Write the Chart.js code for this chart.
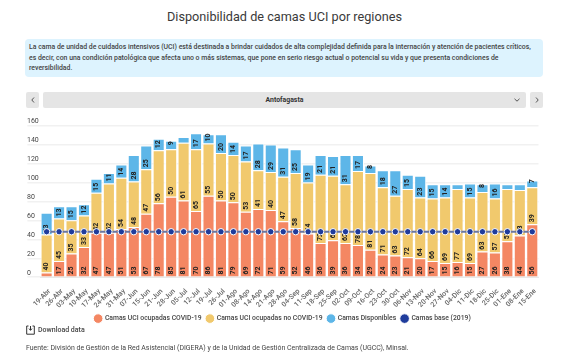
<!DOCTYPE html>
<html lang="es">
<head>
<meta charset="utf-8">
<title>Disponibilidad de camas UCI por regiones</title>
<script src="https://cdn.jsdelivr.net/npm/chart.js@4"></script>
<style>
  html, body { margin: 0; padding: 0; background: #fff; }
  body { width: 567px; height: 357px; position: relative; overflow: hidden; font-family: Roboto, sans-serif; color: #333; }
  h1 { position: absolute; top: 8px; left: 1px; width: 567px; margin: 0; text-align: center; font-size: 12.7px; font-weight: 400; line-height: 18px; color: #3a3a3a; }
  .intro { position: absolute; left: 25px; top: 39px; padding: 3px 4px 0 4px; width: 510px; height: 35px; background: #ddf3fe; border-radius: 4px; font-size: 6.9px; font-weight: 500; line-height: 10.7px; color: #444; }
  .btn, .sel { position: absolute; top: 92px; height: 16px; background: #e5e5e5; border-radius: 2px; }
  .btn { width: 13px; }
  .sel { left: 43px; width: 483px; text-align: center; font-size: 6.9px; font-weight: 700; line-height: 16px; color: #333; }
  svg.chev { position: absolute; top: 5px; }
  #wrap { position: absolute; left: 27px; top: 112px; width: 540px; height: 220px; }
  .download { position: absolute; left: 26px; top: 325px; font-size: 7px; font-weight: 500; line-height: 11px; color: #444; padding-left: 12px; }
  .download svg { position: absolute; left: 0; top: 0; }
  .source { position: absolute; left: 26px; top: 343px; font-size: 6.95px; line-height: 10px; color: #444; }
</style>
</head>
<body>
<h1>Disponibilidad de camas UCI por regiones</h1>
<div class="intro">La cama de unidad de cuidados intensivos (UCI) está destinada a brindar cuidados de alta complejidad definida para la internación y atención de pacientes críticos, es decir, con una condición patológica que afecta uno o más sistemas, que pone en serio riesgo actual o potencial su vida y que presenta condiciones de reversibilidad.</div>
<div class="btn" style="left:26px"><svg class="chev" style="left:5px" width="4" height="6"><path d="M3 0.5L0.8 3L3 5.5" fill="none" stroke="#555" stroke-width="1"/></svg></div>
<div class="sel">Antofagasta<svg class="chev" style="right:6px;top:6px" width="6" height="4"><path d="M0.5 0.8L3 3.2L5.5 0.8" fill="none" stroke="#555" stroke-width="1"/></svg></div>
<div class="btn" style="left:530px"><svg class="chev" style="left:5px" width="4" height="6"><path d="M1 0.5L3.2 3L1 5.5" fill="none" stroke="#555" stroke-width="1"/></svg></div>
<div id="wrap"><canvas id="chart" width="540" height="220"></canvas></div>
<div class="download"><svg width="9" height="10"><path d="M2.5 1H0.7V9.2H8.3V1H6.5" fill="none" stroke="#333" stroke-width="1"/><path d="M4.5 1V5M3 3.6L4.5 5.4L6 3.6" fill="none" stroke="#333" stroke-width="1"/></svg>Download data</div>
<div class="source">Fuente: División de Gestión de la Red Asistencial (DIGERA) y de la Unidad de Gestión Centralizada de Camas (UGCC), Minsal.</div>
<script>
const weeks = ['19-Abr','26-Abr','03-May','10-May','17-May','24-May','31-May','07-Jun','15-Jun','21-Jun',
  '28-Jun','05-Jul','12-Jul','19-Jul','26-Jul','01-Ago','08-Ago','14-Ago','21-Ago','28-Ago',
  '04-Sep','11-Sep','18-Sep','25-Sep','02-Oct','09-Oct','16-Oct','23-Oct','30-Oct','06-Nov',
  '13-Nov','20-Nov','27-Nov','04-Dic','11-Dic','18-Dic','25-Dic','01-Ene','08-Ene','15-Ene'];
const covid = [5,17,25,32,47,47,51,53,67,78,
  85,81,70,86,81,79,69,72,71,59,
  52,46,36,39,36,34,29,24,23,21,
  20,17,15,16,15,27,26,38,44,56];
const noCovid = [40,45,35,33,42,52,54,48,47,56,
  50,61,65,55,50,50,53,41,40,47,
  58,54,72,68,62,78,81,71,63,72,
  64,66,69,77,69,63,57,55,48,39];
const disponibles = [23,13,15,12,15,11,14,28,25,12,
  9,6,17,10,20,14,17,28,29,31,
  25,19,21,21,31,17,8,18,27,15,
  23,15,14,5,15,8,16,5,6,7];
const base2019 = [48,48,48,48,48,48,48,48,48,48,
  48,48,48,48,48,48,48,48,48,48,
  48,48,48,48,48,48,48,48,48,48,
  48,48,48,48,48,48,48,48,48,48];

// rotated value labels, sitting at the base of each segment
const barLabels = {
  id: 'barLabels',
  afterDatasetDraw(chart, args) {
    if (chart.data.datasets[args.index].type === 'line') return;
    const values = chart.data.datasets[args.index].data;
    const { ctx } = chart;
    ctx.save();
    ctx.font = '700 7px Roboto';
    ctx.fillStyle = '#222';
    ctx.textAlign = 'center';
    ctx.textBaseline = 'middle';
    args.meta.data.forEach((bar, i) => {
      if (values[i] < 7) return;
      ctx.save();
      ctx.translate(bar.x, bar.base - 6);
      ctx.rotate(-Math.PI / 2);
      ctx.fillText(values[i], 0, 0);
      ctx.restore();
    });
    ctx.restore();
  },
};

// y labels sit left aligned, just above their grid line
const yLabels = {
  id: 'yLabels',
  afterDraw(chart) {
    const { ctx } = chart;
    const y = chart.scales.y;
    ctx.save();
    ctx.font = '400 7px Roboto';
    ctx.fillStyle = '#444';
    ctx.textAlign = 'left';
    ctx.textBaseline = 'middle';
    y.ticks.forEach(t => ctx.fillText(t.value, 0, y.getPixelForValue(t.value) - 4));
    ctx.restore();
  },
};

new Chart(document.getElementById('chart'), {
  data: {
    labels: weeks,
    datasets: [
      { type: 'bar', label: 'Camas UCI ocupadas COVID-19', data: covid, backgroundColor: '#f48763', borderColor: '#fff', borderWidth: 1, stack: 'a', order: 1 },
      { type: 'bar', label: 'Camas UCI ocupadas no COVID-19', data: noCovid, backgroundColor: '#f1c96d', borderColor: '#fff', borderWidth: 1, stack: 'a', order: 1 },
      { type: 'bar', label: 'Camas Disponibles', data: disponibles, backgroundColor: '#5db6e8', borderColor: '#fff', borderWidth: 1, stack: 'a', order: 1 },
      { type: 'line', label: 'Camas base (2019)', data: base2019, borderColor: '#6a76a0', borderWidth: 2, backgroundColor: '#1f3c9c', pointBackgroundColor: '#1f3c9c', pointBorderColor: '#fff', pointBorderWidth: 1, pointRadius: 3.2, pointStyle: 'circle', tension: 0, order: 0 },
    ],
  },
  options: {
    responsive: false,
    animation: false,
    layout: { padding: { left: 0, right: 28.5, top: 13.6, bottom: 0 } },
    datasets: { bar: { categoryPercentage: 1, barPercentage: 0.97 } },
    plugins: {
      title: { display: false },
      tooltip: { enabled: false },
      legend: {
        position: 'bottom',
        labels: { sort: (a, b) => a.datasetIndex - b.datasetIndex, usePointStyle: true, pointStyle: 'circle', boxWidth: 7, boxHeight: 7, padding: 5, color: '#444', font: { family: 'Roboto', size: 6.8, weight: '500' } },
      },
    },
    scales: {
      x: {
        stacked: true,
        grid: { display: false },
        border: { color: '#e8e8e8' },
        afterFit: s => { s.height = 33; s.paddingLeft = 0; s.paddingRight = 0; },
        ticks: { autoSkip: false, maxRotation: 45, minRotation: 45, padding: 2, labelOffset: 3, color: '#666', font: { family: 'Roboto', size: 7, weight: '500' } },
      },
      y: {
        stacked: true,
        min: 0,
        max: 160,
        afterFit: s => { s.width = 13.4; },
        grid: { color: '#f1f1f1', lineWidth: 1.5, tickLength: 13, tickColor: '#f1f1f1' },
        border: { display: false },
        ticks: { stepSize: 20, display: false },
      },
    },
  },
  plugins: [barLabels, yLabels],
});
</script>
</body>
</html>
